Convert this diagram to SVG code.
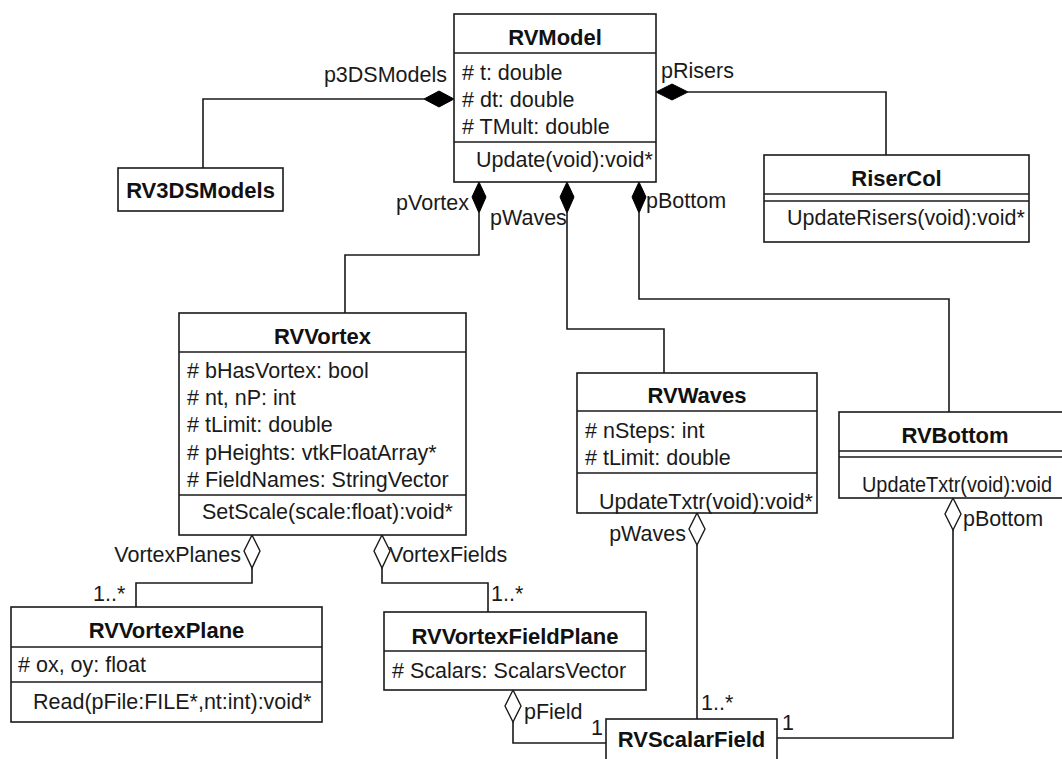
<svg xmlns="http://www.w3.org/2000/svg" width="1062" height="759" viewBox="0 0 1062 759">
  <style>
    .box { fill: #ffffff; stroke: #1a1a1a; stroke-width: 1.6; }
    .div { stroke: #1a1a1a; stroke-width: 1.6; }
    .t { font-family: "Liberation Sans", Arial, sans-serif; font-size: 21.5px; fill: #1a1a1a; }
    .ttl { font-family: "Liberation Sans", Arial, sans-serif; font-size: 22px; font-weight: bold; fill: #111111; text-anchor: middle; }
    .end { text-anchor: end; }
    .conn { fill: none; stroke: #1a1a1a; stroke-width: 1.6; }
    .comp { fill: #000000; stroke: #000000; stroke-width: 1; }
    .agg { fill: #ffffff; stroke: #1a1a1a; stroke-width: 1.4; }
  </style>

  <rect width="1062" height="759" fill="#ffffff"/>

  <!-- associations -->
  <g id="connectors">
    <path class="conn" d="M424,99 H203 V168"/>
    <path class="conn" d="M688,92 H886 V155"/>
    <path class="conn" d="M479,213 V255 H345 V313"/>
    <path class="conn" d="M567,213 V329 H664 V373"/>
    <path class="conn" d="M639,213 V299 H949 V412"/>
    <path class="conn" d="M252,568 V583 H136 V607"/>
    <path class="conn" d="M382,568 V583 H488 V612"/>
    <path class="conn" d="M697,545 V719"/>
    <path class="conn" d="M953,530 V738 H777"/>
    <path class="conn" d="M513,722 V743 H606"/>

    <!-- composition ends -->
    <polygon class="comp" points="424,99 439,91 454,99 439,107"/>
    <polygon class="comp" points="656,92 672,84 688,92 672,100"/>
    <polygon class="comp" points="479,182 486,197 479,213 472,197"/>
    <polygon class="comp" points="567,182 574,197 567,213 560,197"/>
    <polygon class="comp" points="639,182 646,197 639,213 632,197"/>

    <!-- aggregation ends -->
    <polygon class="agg" points="252,535 260,551 252,568 244,551"/>
    <polygon class="agg" points="382,535 390,551 382,568 374,551"/>
    <polygon class="agg" points="697,513 705,529 697,545 689,529"/>
    <polygon class="agg" points="953,498 961,514 953,530 945,514"/>
    <polygon class="agg" points="513,690 521,706 513,722 505,706"/>

    <!-- role names and multiplicities -->
    <text class="t end" x="447" y="82">p3DSModels</text>
    <text class="t" x="661" y="78">pRisers</text>
    <text class="t end" x="469" y="210">pVortex</text>
    <text class="t" x="490" y="225">pWaves</text>
    <text class="t" x="646" y="208">pBottom</text>
    <text class="t end" x="241" y="562">VortexPlanes</text>
    <text class="t" x="389" y="562">VortexFields</text>
    <text class="t" x="93" y="601">1..*</text>
    <text class="t" x="491" y="601">1..*</text>
    <text class="t end" x="686" y="541">pWaves</text>
    <text class="t" x="963" y="526">pBottom</text>
    <text class="t" x="524" y="719">pField</text>
    <text class="t" x="591" y="735">1</text>
    <text class="t" x="701" y="710">1..*</text>
    <text class="t" x="782" y="730">1</text>
  </g>

  <g id="RVModel">
    <rect class="box" x="454" y="14" width="202" height="168"/>
    <line class="div" x1="454" y1="53" x2="656" y2="53"/>
    <line class="div" x1="454" y1="142" x2="656" y2="142"/>
    <text class="ttl" x="555" y="45">RVModel</text>
    <text class="t" x="462" y="80"># t: double</text>
    <text class="t" x="462" y="107"># dt: double</text>
    <text class="t" x="462" y="134"># TMult: double</text>
    <text class="t" x="476" y="167">Update(void):void*</text>
  </g>

  <g id="RV3DSModels">
    <rect class="box" x="118" y="168" width="165" height="43"/>
    <text class="ttl" x="200.5" y="198">RV3DSModels</text>
  </g>

  <g id="RiserCol">
    <rect class="box" x="764" y="155" width="265" height="87"/>
    <line class="div" x1="764" y1="194" x2="1029" y2="194"/>
    <line class="div" x1="764" y1="201" x2="1029" y2="201"/>
    <text class="ttl" x="896.5" y="186">RiserCol</text>
    <text class="t" x="787" y="225">UpdateRisers(void):void*</text>
  </g>

  <g id="RVVortex">
    <rect class="box" x="179" y="313" width="287" height="222"/>
    <line class="div" x1="179" y1="352" x2="466" y2="352"/>
    <line class="div" x1="179" y1="495" x2="466" y2="495"/>
    <text class="ttl" x="322.5" y="344">RVVortex</text>
    <text class="t" x="187" y="378"># bHasVortex: bool</text>
    <text class="t" x="187" y="405"># nt, nP: int</text>
    <text class="t" x="187" y="432"># tLimit: double</text>
    <text class="t" x="187" y="460"># pHeights: vtkFloatArray*</text>
    <text class="t" x="187" y="487"># FieldNames: StringVector</text>
    <text class="t" x="202" y="519">SetScale(scale:float):void*</text>
  </g>

  <g id="RVWaves">
    <rect class="box" x="577" y="373" width="240" height="140"/>
    <line class="div" x1="577" y1="411" x2="817" y2="411"/>
    <line class="div" x1="577" y1="473" x2="817" y2="473"/>
    <text class="ttl" x="697" y="403">RVWaves</text>
    <text class="t" x="585" y="438"># nSteps: int</text>
    <text class="t" x="585" y="465"># tLimit: double</text>
    <text class="t" x="599" y="509">UpdateTxtr(void):void*</text>
  </g>

  <g id="RVBottom">
    <rect class="box" x="839" y="412" width="232" height="86"/>
    <line class="div" x1="839" y1="451" x2="1071" y2="451"/>
    <line class="div" x1="839" y1="457" x2="1071" y2="457"/>
    <text class="ttl" x="955" y="443">RVBottom</text>
    <text class="t" x="862" y="492" textLength="190" lengthAdjust="spacingAndGlyphs">UpdateTxtr(void):void</text>
  </g>

  <g id="RVVortexPlane">
    <rect class="box" x="11" y="607" width="311" height="115"/>
    <line class="div" x1="11" y1="647" x2="322" y2="647"/>
    <line class="div" x1="11" y1="682" x2="322" y2="682"/>
    <text class="ttl" x="166.5" y="638">RVVortexPlane</text>
    <text class="t" x="18" y="672"># ox, oy: float</text>
    <text class="t" x="33" y="709">Read(pFile:FILE*,nt:int):void*</text>
  </g>

  <g id="RVVortexFieldPlane">
    <rect class="box" x="384" y="612" width="262" height="78"/>
    <line class="div" x1="384" y1="651" x2="646" y2="651"/>
    <text class="ttl" x="515" y="644">RVVortexFieldPlane</text>
    <text class="t" x="392" y="678"># Scalars: ScalarsVector</text>
  </g>

  <g id="RVScalarField">
    <rect class="box" x="606" y="719" width="171" height="60"/>
    <text class="ttl" x="691.5" y="747">RVScalarField</text>
  </g>
</svg>
